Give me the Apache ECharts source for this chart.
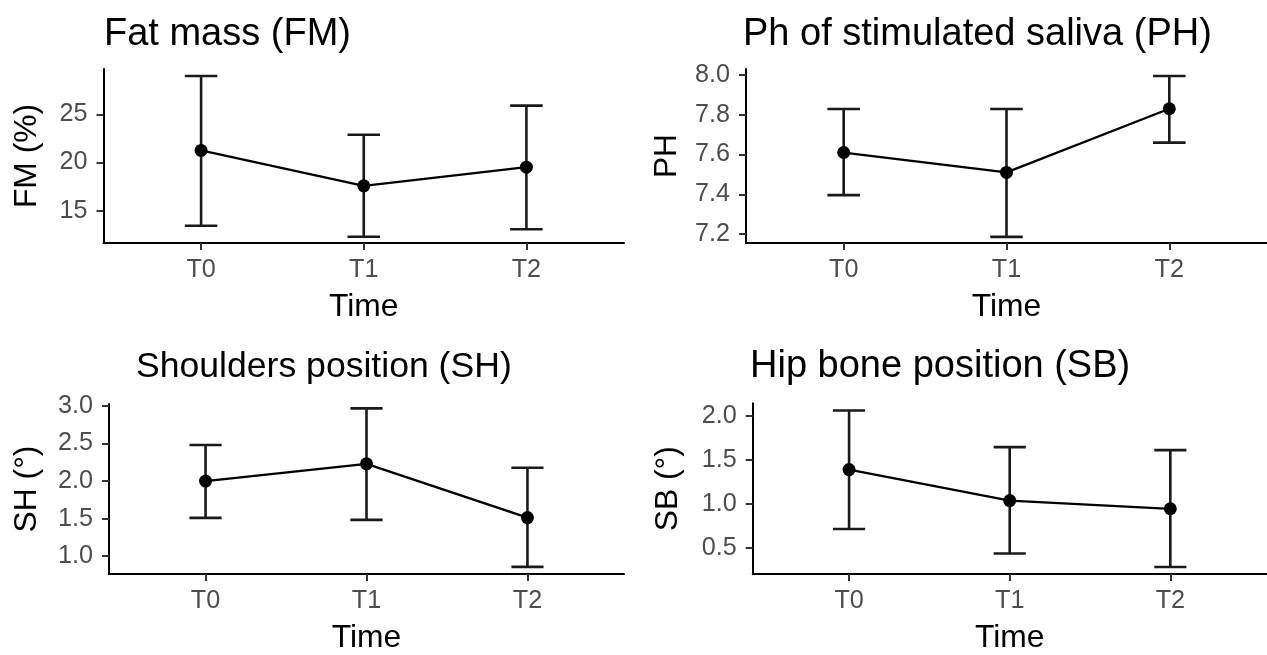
<!DOCTYPE html>
<html>
<head>
<meta charset="utf-8">
<script src="https://cdn.jsdelivr.net/npm/echarts@6/dist/echarts.min.js"></script>
<style>html,body{margin:0;padding:0;background:#fff;}#c{width:1267px;height:655px;}</style>
</head>
<body>
<div id="c"></div>
<script>
// ---- data ----
const categories = ['T0', 'T1', 'T2'];

const fmMean = [21.25, 17.58, 19.52];
const fmLow  = [13.44, 12.30, 13.07];
const fmHigh = [28.98, 22.88, 25.90];

const phMean = [7.61, 7.51, 7.83];
const phLow  = [7.396, 7.186, 7.66];
const phHigh = [7.829, 7.829, 7.995];

const shMean = [2.00, 2.229, 1.513];
const shLow  = [1.51, 1.483, 0.857];
const shHigh = [2.48, 2.968, 2.177];

const sbMean = [1.389, 1.038, 0.945];
const sbLow  = [0.715, 0.438, 0.286];
const sbHigh = [2.059, 1.644, 1.61];

const fmTicks = [15, 20, 25];
const phTicks = [7.2, 7.4, 7.6, 7.8, 8.0];
const shTicks = [1.0, 1.5, 2.0, 2.5, 3.0];
const sbTicks = [0.5, 1.0, 1.5, 2.0];

const titles = ['Fat mass (FM)', 'Ph of stimulated saliva (PH)', 'Shoulders position (SH)', 'Hip bone position (SB)'];
const yNames = ['FM (%)', 'PH', 'SH (°)', 'SB (°)'];
const xName = 'Time';

// ---- layout / style ----
const FONT = 'Liberation Sans, Arial, Helvetica, sans-serif';
const NAME_FS = 31.8, TICK_FS = 25.2;
const panels = [
  {mean: fmMean, low: fmLow, high: fmHigh, ticks: fmTicks, dec: 0,
   grid: {left: 103.5, top: 69, width: 520.5, height: 174}, min: 11.65, max: 29.70, nameGap: 60,
   title: {left: 104, top: 16, fs: 38}},
  {mean: phMean, low: phLow, high: phHigh, ticks: phTicks, dec: 1,
   grid: {left: 746, top: 69, width: 521, height: 174}, min: 7.155, max: 8.03, nameGap: 63,
   title: {left: 743, top: 16, fs: 38}},
  {mean: shMean, low: shLow, high: shHigh, ticks: shTicks, dec: 1,
   grid: {left: 109, top: 404, width: 515, height: 174.3}, min: 0.762, max: 3.026, nameGap: 66,
   title: {left: 136, top: 349, fs: 35.6}},
  {mean: sbMean, low: sbLow, high: sbHigh, ticks: sbTicks, dec: 1,
   grid: {left: 752.7, top: 403.3, width: 514, height: 175}, min: 0.206, max: 2.14, nameGap: 68,
   title: {left: 750, top: 348, fs: 38}}
];

const catIdx = categories.map((c, i) => i);

const option = {
  animation: false,
  backgroundColor: '#ffffff',
  textStyle: {fontFamily: FONT},
  title: panels.map((p, i) => ({
    text: titles[i], left: p.title.left, top: p.title.top, padding: 0,
    textStyle: {fontFamily: FONT, fontSize: p.title.fs, fontWeight: 'normal', color: '#000', lineHeight: p.title.fs}
  })),
  grid: panels.map(p => Object.assign({containLabel: false}, p.grid)),
  xAxis: panels.map((p, i) => ({
    type: 'value', gridIndex: i, min: -0.6, max: 2.6,
    name: xName, nameLocation: 'middle', nameGap: 48,
    nameTextStyle: {fontFamily: FONT, fontSize: NAME_FS, color: '#000'},
    axisLine: {show: true, onZero: false, lineStyle: {color: '#000', width: 2}},
    axisTick: {show: true, length: 7, customValues: catIdx, lineStyle: {color: '#333', width: 2}},
    axisLabel: {show: true, customValues: catIdx, margin: 15, fontFamily: FONT, fontSize: TICK_FS, color: '#4D4D4D',
      formatter: v => categories[Math.round(v)] || ''},
    splitLine: {show: false}
  })),
  yAxis: panels.map((p, i) => ({
    type: 'value', gridIndex: i, min: p.min, max: p.max,
    name: yNames[i], nameLocation: 'middle', nameGap: p.nameGap,
    nameTextStyle: {fontFamily: FONT, fontSize: NAME_FS, color: '#000'},
    axisLine: {show: true, onZero: false, lineStyle: {color: '#000', width: 2}},
    axisTick: {show: true, length: 7, customValues: p.ticks, lineStyle: {color: '#333', width: 2}},
    axisLabel: {show: true, customValues: p.ticks, margin: 16, fontFamily: FONT, fontSize: TICK_FS, color: '#4D4D4D',
      formatter: v => Number(v).toFixed(p.dec)},
    splitLine: {show: false}
  })),
  series: []
};

panels.forEach((p, i) => {
  option.series.push({
    type: 'custom', xAxisIndex: i, yAxisIndex: i, z: 2,
    data: categories.map((c, k) => [k, p.low[k], p.high[k]]),
    renderItem: function (params, api) {
      const x = api.value(0), lo = api.value(1), hi = api.value(2);
      const pLo = api.coord([x, lo]), pHi = api.coord([x, hi]);
      const xl = api.coord([x - 0.1, lo])[0], xr = api.coord([x + 0.1, lo])[0];
      const st = {stroke: '#1a1a1a', lineWidth: 2.6, fill: null};
      return {type: 'group', children: [
        {type: 'line', shape: {x1: pLo[0], y1: pLo[1], x2: pHi[0], y2: pHi[1]}, style: st},
        {type: 'line', shape: {x1: xl, y1: pHi[1], x2: xr, y2: pHi[1]}, style: st},
        {type: 'line', shape: {x1: xl, y1: pLo[1], x2: xr, y2: pLo[1]}, style: st}
      ]};
    }
  });
  option.series.push({
    type: 'line', xAxisIndex: i, yAxisIndex: i, z: 3,
    data: categories.map((c, k) => [k, p.mean[k]]),
    symbol: 'circle', symbolSize: 13,
    lineStyle: {color: '#000', width: 2.3},
    itemStyle: {color: '#000'}
  });
});

const chart = echarts.init(document.getElementById('c'), null, {renderer: 'canvas'});
chart.setOption(option);
</script>
</body>
</html>
